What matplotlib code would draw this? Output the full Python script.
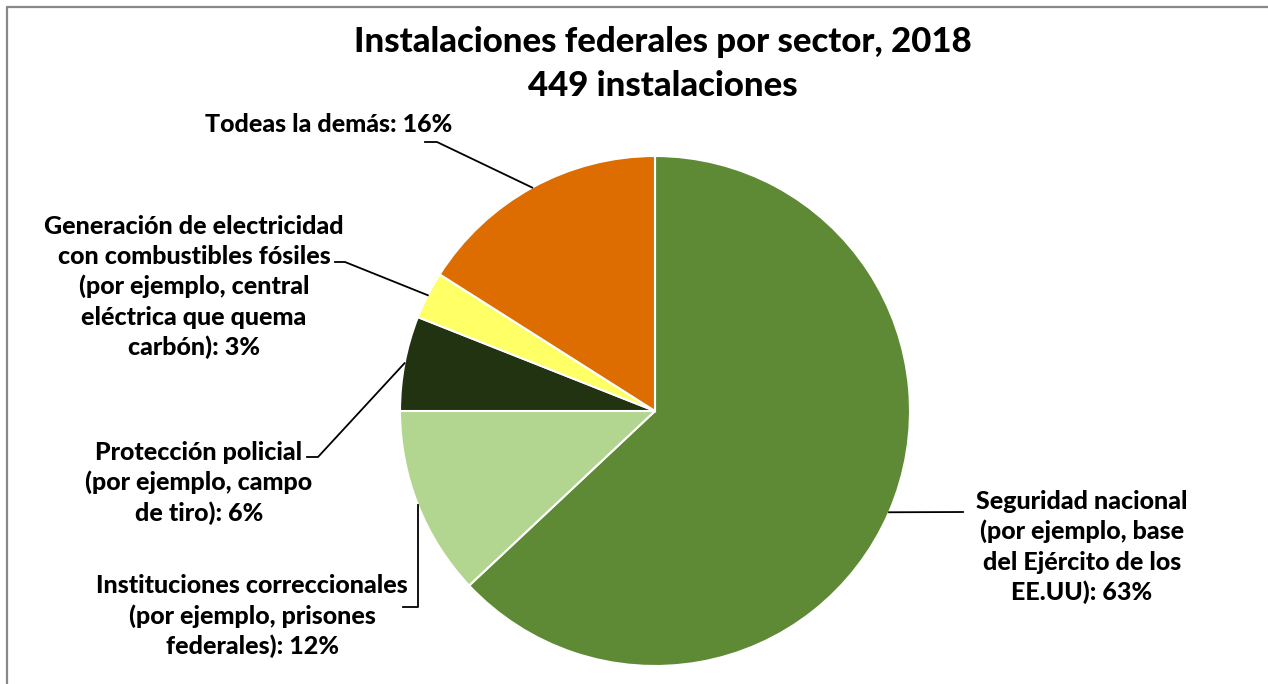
import matplotlib.pyplot as plt
from matplotlib.lines import Line2D
import numpy as np

plt.rcParams['font.family'] = ['Lato', 'DejaVu Sans']

# data
sectors = ['Seguridad nacional', 'Instituciones correccionales', 'Protección policial',
           'Generación de electricidad', 'Todeas la demás']
shares = [63, 12, 6, 3, 16]
colors = ['#5E8A35', '#B2D68F', '#223311', '#FFFF66', '#DD6D00']
labels = [
    'Seguridad nacional\n(por ejemplo, base\ndel Ejército de los\nEE.UU): 63%',
    'Instituciones correccionales\n(por ejemplo, prisones\nfederales): 12%',
    'Protección policial\n(por ejemplo, campo\nde tiro): 6%',
    'Generación de electricidad\ncon combustibles fósiles\n(por ejemplo, central\neléctrica que quema\ncarbón): 3%',
    'Todeas la demás: 16%',
]

W, H = 1268, 684
fig = plt.figure(figsize=(W / 100, H / 100), dpi=100)

# pie center (655, 411) px, radius 255 px
cx, cy, r = 655, 411, 255
ax = fig.add_axes([(cx - r) / W, (H - cy - r) / H, 2 * r / W, 2 * r / H])
wedges, _ = ax.pie(shares, colors=colors, startangle=90, counterclock=False, radius=1,
                   wedgeprops=dict(edgecolor='white', linewidth=1.5))
ax.set_xlim(-1, 1)
ax.set_ylim(-1, 1)
ax.set_aspect('equal')
ax.axis('off')


def px(x, y):
    # figure pixel (top-left origin) -> figure fraction
    return x / W, 1 - y / H


def edge_point(w):
    ang = np.deg2rad((w.theta1 + w.theta2) / 2)
    x = cx + r * np.cos(ang)
    y = cy - r * np.sin(ang)
    return x, y


def leader(points):
    xs = [p[0] / W for p in points]
    ys = [1 - p[1] / H for p in points]
    fig.add_artist(Line2D(xs, ys, color='black', lw=1.3, transform=fig.transFigure))


fs = 18
ls = 1.37
fw = 900
e = [edge_point(w) for w in wedges]

fig.text(*px(1082, 547), labels[0], ha='center', va='center', fontsize=fs,
         fontweight=fw, linespacing=ls)
leader([e[0], (963, 512)])

fig.text(*px(252, 616), labels[1], ha='center', va='center', fontsize=fs,
         fontweight=fw, linespacing=ls)
leader([e[1], (e[1][0], 607), (403, 607)])

fig.text(*px(199, 483), labels[2], ha='center', va='center', fontsize=fs,
         fontweight=fw, linespacing=ls)
leader([e[2], (318, 457), (307, 457)])

fig.text(*px(194, 287), labels[3], ha='center', va='center', fontsize=fs,
         fontweight=fw, linespacing=ls)
leader([e[3], (345, 262), (335, 262)])

fig.text(*px(329, 125), labels[4], ha='center', va='center', fontsize=fs,
         fontweight=fw)
leader([e[4], (437, 142), (425, 142)])

fig.text(*px(663, 42), 'Instalaciones federales por sector, 2018', ha='center', va='center',
         fontsize=25, fontweight=fw)
fig.text(*px(663, 86), '449 instalaciones', ha='center', va='center',
         fontsize=25, fontweight=fw)

# chart frame
fig.add_artist(Line2D([7 / W, 7 / W, 1], [0, 1 - 6.5 / H, 1 - 6.5 / H], color='#888888',
                      lw=1.6, transform=fig.transFigure))

fig.savefig('out.png', dpi=100)
